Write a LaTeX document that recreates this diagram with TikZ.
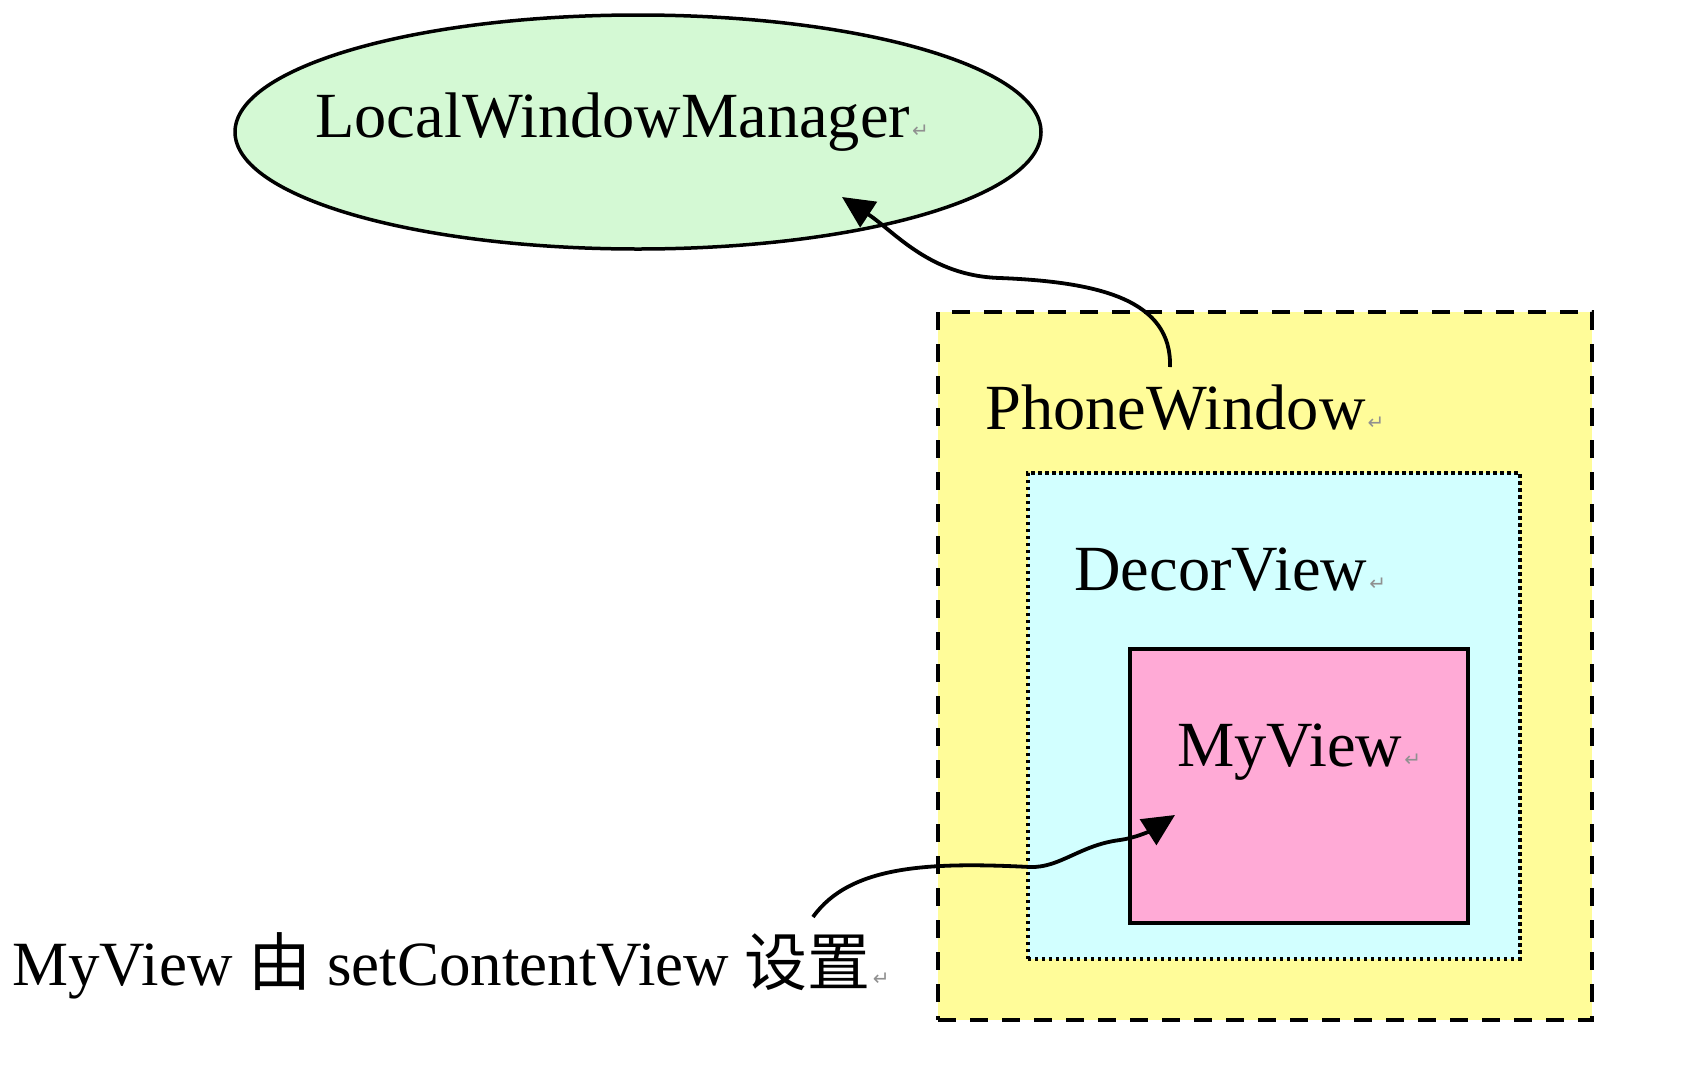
\documentclass[tikz,border=0pt]{standalone}
\usepackage{fontspec}
\setmainfont{Liberation Serif}
\newfontfamily\cjkfont{Noto Sans CJK SC}
\newfontfamily\symfont{DejaVu Sans}
\usetikzlibrary{arrows.meta,shapes.geometric}
\definecolor{lwmgreen}{HTML}{D4F9D4}
\definecolor{pwyellow}{HTML}{FFFC99}
\definecolor{dvcyan}{HTML}{D2FFFF}
\definecolor{mvpink}{HTML}{FFAAD6}
\definecolor{retgray}{HTML}{909090}
\newcommand{\retmark}{\hspace{1pt}{\symfont\fontsize{10}{10}\selectfont\color{retgray}↵}}
\tikzset{
  lbl/.style={anchor=base west, inner sep=0pt, font=\fontsize{32.2}{36}\selectfont},
  caplbl/.style={anchor=base west, inner sep=0pt, font=\fontsize{31.5}{36}\selectfont},
  conn/.style={line width=1.9pt, -{Triangle[length=16pt,width=15pt]}},
}
\begin{document}
\begin{tikzpicture}[x=0.5pt,y=-0.5pt]
\useasboundingbox[fill=white] (0,0) rectangle (1682,1072);
% ellipse
\node[ellipse, draw, line width=1.75pt, fill=lwmgreen, minimum width=403pt, minimum height=117pt, inner sep=0pt] (lwm) at (638,132) {};
\node[lbl] (lwmtext) at (315,137) {LocalWindowManager\retmark};
% PhoneWindow box
\node[draw, line width=2pt, dash pattern=on 9pt off 7pt, fill=pwyellow, minimum width=327pt, minimum height=354pt, inner sep=0pt, anchor=north west] (pw) at (936,310) {};
\node[lbl] (pwtext) at (985,429) {PhoneWindow\retmark};
% DecorView box
\node[draw, line width=1.75pt, dash pattern=on 1.75pt off 1.75pt, fill=dvcyan, minimum width=246pt, minimum height=243pt, inner sep=0pt, anchor=north west] (dv) at (1026,471) {};
\node[lbl] (dvtext) at (1074,590) {DecorView\retmark};
% MyView box
\node[draw, line width=2pt, fill=mvpink, minimum width=169pt, minimum height=137pt, inner sep=0pt, anchor=north west] (mv) at (1128,647) {};
\node[lbl] (mvtext) at (1177,766) {MyView\retmark};
% caption
\node[caplbl] (cap) at (12,985) {MyView {\cjkfont 由} setContentView {\cjkfont 设置}\retmark};
% connectors
\coordinate (pwhook) at (1170,367);
\coordinate (lwmtip) at (842,197);
\coordinate (caphook) at (813,917);
\coordinate (mvtip) at (1175,815);
\draw[conn] (pwhook) .. controls (1172,300) and (1100,282) .. (1000,278) .. controls (930,276) and (895,232) .. (lwmtip);
\draw[conn] (caphook) .. controls (850,865) and (930,862) .. (1030,867) .. controls (1060,868) and (1080,845) .. (1120,840) .. controls (1135,838) and (1150,831) .. (mvtip);
\end{tikzpicture}
\end{document}
